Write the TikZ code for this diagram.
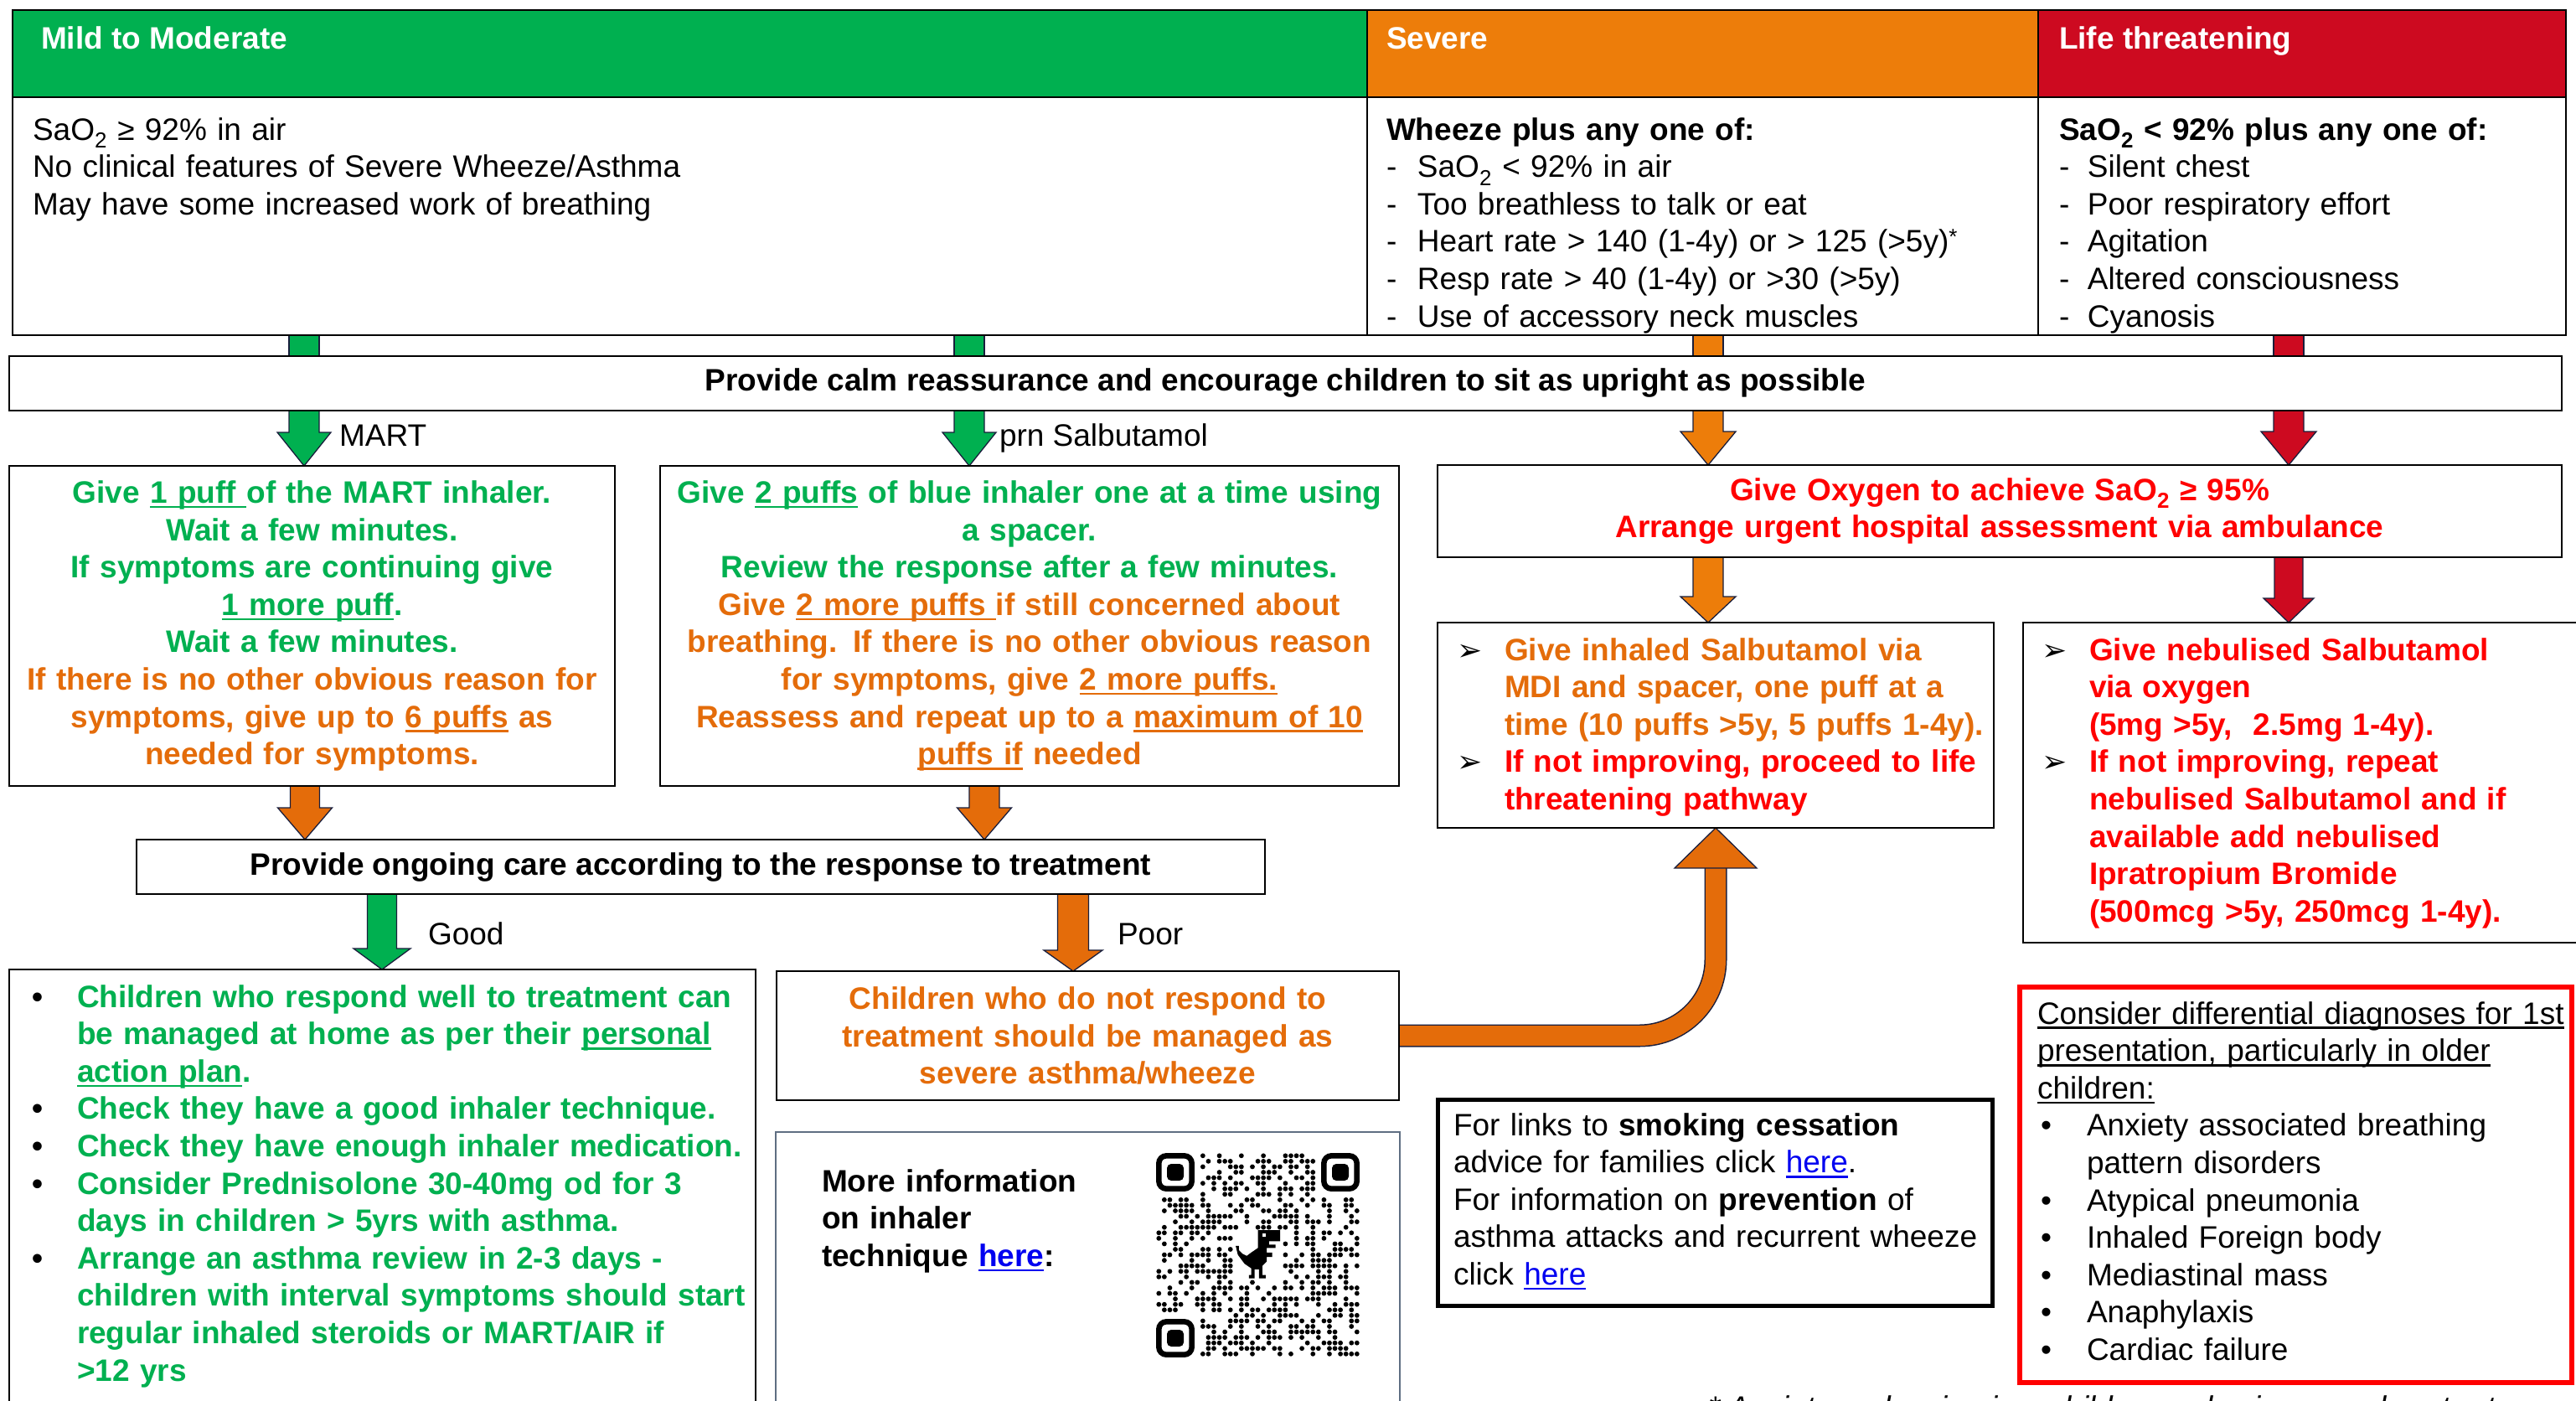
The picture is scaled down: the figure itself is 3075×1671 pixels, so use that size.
\documentclass[tikz,border=0pt]{standalone}
\usepackage{fontspec}
\setmainfont{Liberation Sans}
\newfontfamily\djv{DejaVu Sans}
\usetikzlibrary{calc}
\pgfdeclarelayer{bg}
\pgfsetlayers{bg,main}
\definecolor{hgreen}{RGB}{0,176,80}
\definecolor{horange}{RGB}{237,125,10}
\definecolor{hred}{RGB}{205,10,32}
\definecolor{tgreen}{RGB}{0,176,80}
\definecolor{torange}{RGB}{228,108,10}
\definecolor{tred}{RGB}{255,0,0}
\definecolor{lnk}{RGB}{0,0,240}
\definecolor{aedge}{RGB}{25,30,60}
\definecolor{qrgray}{RGB}{95,110,130}
\newsavebox\ulbox
\newcommand{\uline}[1]{\leavevmode\sbox\ulbox{#1}\rlap{\usebox\ulbox}\rule[-6pt]{\wd\ulbox}{2.6pt}}
\newcommand{\blkdown}[6]{%
  \filldraw[fill=#3, draw=aedge, line width=1.3pt, line join=miter]
    let \p1=(#1), \p2=(#2) in
    (\x1-#4pt,\y1) -- (\x1+#4pt,\y1) -- (\x1+#4pt,\y2+#6pt) -- (\x1+#5pt,\y2+#6pt)
    -- (\x1,\y2) -- (\x1-#5pt,\y2+#6pt) -- (\x1-#4pt,\y2+#6pt) -- cycle;}
\newcommand{\blkstub}[3]{%
  \filldraw[fill=#3, draw=aedge, line width=1.3pt]
    let \p1=(#1), \p2=(#2) in (\x1-18pt,\y1) rectangle (\x1+18pt,\y2);}
\newcommand{\arr}{{\djv\mdseries\color{black}\fontsize{36}{36}\selectfont ➢}}
\newcommand{\bul}{{\color{black}•}}
\newcommand{\lk}[1]{{\color{lnk}\uline{#1}}}
\begin{document}
\begin{tikzpicture}[x=1pt,y=-1pt,
  every node/.style={inner sep=0pt, outer sep=0pt, font=\fontsize{37}{44.6}\selectfont},
  cell/.style={draw=black, line width=2.5pt, anchor=north west},
  box/.style={draw=black, line width=2.5pt, anchor=north west, align=center},
  bt/.style={font=\fontsize{37}{44.6}\selectfont\bfseries},
  lt/.style={anchor=base west, text width=1000pt, align=left},
  lab/.style={anchor=base west}]
\useasboundingbox (0,0) rectangle (3075,1671);
\clip (0,0) rectangle (3075,1671);
% column coordinates
\coordinate (cM) at (363,0);
\coordinate (cP) at (1157,0);
\coordinate (cS) at (2039,0);
\coordinate (cL) at (2732,0);
\coordinate (cMb) at (364,0);
\coordinate (cPb) at (1175,0);
\coordinate (cG) at (456,0);
\coordinate (cR) at (1281,0);
% header
\node[cell, fill=hgreen, minimum width=1617pt, minimum height=104pt] (hM) at (15,12) {};
\node[cell, fill=horange, minimum width=801pt, minimum height=104pt] (hS) at (1632,12) {};
\node[cell, fill=hred, minimum width=630pt, minimum height=104pt] (hL) at (2433,12) {};
\node[lab, text=white, bt] (tM) at (49,58) {Mild to Moderate};
\node[lab, text=white, bt] (tS) at (1655,58) {Severe};
\node[lab, text=white, bt] (tL) at (2458,58) {Life threatening};
\node[cell, minimum width=1617pt, minimum height=284pt] (bM) at (15,116) {};
\node[cell, minimum width=801pt, minimum height=284pt] (bS) at (1632,116) {};
\node[cell, minimum width=630pt, minimum height=284pt] (bL) at (2433,116) {};
\node[lt] (xM) at (39,167) {SaO\textsubscript{2} ≥ 92\% in air\\No clinical features of Severe Wheeze/Asthma\\May have some increased work of breathing};
\node[lt] (xS) at (1655,167) {\textbf{Wheeze plus any one of:}\\
\makebox[37pt][l]{-}SaO\textsubscript{2} < 92\% in air\\
\makebox[37pt][l]{-}Too breathless to talk or eat\\
\makebox[37pt][l]{-}Heart rate > 140 (1-4y) or > 125 (>5y)\textsuperscript{*}\\
\makebox[37pt][l]{-}Resp rate > 40 (1-4y) or >30 (>5y)\\
\makebox[37pt][l]{-}Use of accessory neck muscles};
\node[lt] (xL) at (2458,167) {\textbf{SaO\textsubscript{2} < 92\% plus any one of:}\\
\makebox[34pt][l]{-}Silent chest\\
\makebox[34pt][l]{-}Poor respiratory effort\\
\makebox[34pt][l]{-}Agitation\\
\makebox[34pt][l]{-}Altered consciousness\\
\makebox[34pt][l]{-}Cyanosis};
% calm box
\node[box, bt, minimum width=3047pt, minimum height=65pt] (calm) at (11,425) {Provide calm reassurance and encourage children to sit as upright as possible};
% MART / prn boxes
\node[box, bt, text=tgreen, text width=713pt, minimum width=723pt, minimum height=382pt] (mart) at (11,556) {Give \uline{1 puff }of the MART inhaler.\\Wait a few minutes.\\If symptoms are continuing give\\\uline{1 more puff}.\\Wait a few minutes.\\\color{torange}If there is no other obvious reason for\\symptoms, give up to \uline{6 puffs} as\\needed for symptoms.};
\node[box, bt, text=tgreen, text width=872pt, minimum width=882pt, minimum height=382pt] (prn) at (788,556) {Give \uline{2 puffs} of blue inhaler one at a time using\\a spacer.\\Review the response after a few minutes.\\\color{torange}Give \uline{2 more puffs }if still concerned about\\breathing. If there is no other obvious reason\\for symptoms, give \uline{2 more puffs.}\\Reassess and repeat up to a \uline{maximum of 10}\\\uline{puffs if} needed};
% severe / life
\node[box, bt, text=tred, text width=1332pt, minimum width=1342pt, minimum height=110pt] (ox) at (1716,555) {Give Oxygen to achieve SaO\textsubscript{2} ≥ 95\%\\Arrange urgent hospital assessment via ambulance};
\node[box, minimum width=664pt, minimum height=245pt] (sev2) at (1716,743) {};
\node[lt, bt, text=torange] (xs2) at (1739,788) {\makebox[57pt][l]{\arr}Give inhaled Salbutamol via\\\hspace*{57pt}MDI and spacer, one puff at a\\\hspace*{57pt}time (10 puffs >5y, 5 puffs 1-4y).\\\color{tred}\makebox[57pt][l]{\arr}If not improving, proceed to life\\\hspace*{57pt}threatening pathway};
\node[box, minimum width=663pt, minimum height=382pt] (life2) at (2415,743) {};
\node[lt, bt, text=tred] (xl2) at (2437,788) {\makebox[57pt][l]{\arr}Give nebulised Salbutamol\\\hspace*{57pt}via oxygen\\\hspace*{57pt}(5mg >5y,\ \ 2.5mg 1-4y).\\\makebox[57pt][l]{\arr}If not improving, repeat\\\hspace*{57pt}nebulised Salbutamol and if\\\hspace*{57pt}available add nebulised\\\hspace*{57pt}Ipratropium Bromide\\\hspace*{57pt}(500mcg >5y, 250mcg 1-4y).};
% ongoing care
\node[box, bt, minimum width=1347pt, minimum height=65pt] (care) at (163,1002) {Provide ongoing care according to the response to treatment};
\node[box, minimum width=891pt, minimum height=600pt] (good) at (11,1157) {};
\node[lt, bt, text=tgreen] (xg) at (38,1202) {\makebox[54pt][l]{\bul}Children who respond well to treatment can\\
\hspace*{54pt}be managed at home as per their \uline{personal}\\
\hspace*{54pt}\uline{action plan}.\\
\makebox[54pt][l]{\bul}Check they have a good inhaler technique.\\
\makebox[54pt][l]{\bul}Check they have enough inhaler medication.\\
\makebox[54pt][l]{\bul}Consider Prednisolone 30-40mg od for 3\\
\hspace*{54pt}days in children > 5yrs with asthma.\\
\makebox[54pt][l]{\bul}Arrange an asthma review in 2-3 days -\\
\hspace*{54pt}children with interval symptoms should start\\
\hspace*{54pt}regular inhaled steroids or MART/AIR if\\
\hspace*{54pt}>12 yrs};
\node[box, bt, text=torange, text width=733pt, minimum width=743pt, minimum height=154pt] (poor) at (927,1159) {Children who do not respond to\\treatment should be managed as\\severe asthma/wheeze};
% QR box
\node[cell, draw=qrgray, line width=2pt, minimum width=745pt, minimum height=400pt] (qrbox) at (926,1351) {};
\node[lt, bt] (xq) at (981,1422) {More information\\on inhaler\\technique \lk{here}:};
% smoking box
\node[cell, line width=5pt, minimum width=662pt, minimum height=246pt] (smoke) at (1716,1312) {};
\node[lt] (xsm) at (1735,1355) {For links to \textbf{smoking cessation}\\advice for families click \lk{here}.\\For information on \textbf{prevention} of\\asthma attacks and recurrent wheeze\\click \lk{here}};
% differential box
\node[cell, draw=tred, line width=6pt, minimum width=659pt, minimum height=472pt] (diff) at (2411,1178) {};
\node[lt] (xd) at (2432,1222) {\uline{Consider differential diagnoses for 1st}\\\uline{presentation, particularly in older}\\\uline{children:}\\
\hspace*{4pt}\makebox[55pt][l]{•}Anxiety associated breathing\\
\hspace*{59pt}pattern disorders\\
\hspace*{4pt}\makebox[55pt][l]{•}Atypical pneumonia\\
\hspace*{4pt}\makebox[55pt][l]{•}Inhaled Foreign body\\
\hspace*{4pt}\makebox[55pt][l]{•}Mediastinal mass\\
\hspace*{4pt}\makebox[55pt][l]{•}Anaphylaxis\\
\hspace*{4pt}\makebox[55pt][l]{•}Cardiac failure};
\node[lab, font=\fontsize{37}{44.6}\selectfont\itshape] (fn) at (2039,1692) {* Anxiety and crying in a child may also increase heart rate};
% labels
\node[lab] (lM) at (405,532) {MART};
\node[lab] (lP) at (1193,532) {prn Salbutamol};
\node[lab] (lG) at (511,1127) {Good};
\node[lab] (lR) at (1334,1127) {Poor};
% QR code
\begin{scope}
\foreach \i in {0,...,36}{\foreach \j in {0,...,36}{%
  \pgfmathtruncatemacro\qh{mod(mod(\i*\i*3,23)+mod(\j*\j*5,23)+7*mod(\i*\j,23)+11*\i+13*\j,19)}%
  \pgfmathtruncatemacro\qsk{((\i<8 && \j<8) || (\i>28 && \j<8) || (\i<8 && \j>28) || (\i>13 && \i<23 && \j>13 && \j<23)) ? 1 : 0}%
  \ifnum\qsk=0 \ifnum\qh<9 \fill ({1380+(\i+0.5)*6.57},{1376+(\j+0.5)*6.57}) circle (2.9pt);\fi\fi
}}
\foreach \fx/\fy in {1380/1376,1577/1376,1380/1574}{%
  \draw[line width=6.5pt, rounded corners=9pt] (\fx+3.3,\fy+3.3) rectangle (\fx+42.7,\fy+42.7);
  \fill[rounded corners=5pt] (\fx+13,\fy+13) rectangle (\fx+33,\fy+33);
}
\end{scope}
\begin{scope}[shift={(1475,1468)}, x=2.65pt, y=-2.68pt]
\fill (10,0) -- (20,0) -- (20,5) -- (15,5) -- (15,6.5) -- (18,6.5) -- (18,8) -- (14,8) -- (14,10) -- (16.5,10) -- (16.5,12) -- (14,12) -- (14,14) -- (12,16) -- (12,20) -- (13.5,20) -- (13.5,21.5) -- (10.5,21.5) -- (10.5,17.5) -- (8.5,17.5) -- (8.5,21.5) -- (6,21.5) -- (6,20) -- (7,20) -- (7,17) -- (4,15) -- (1,11) -- (0,7) -- (1.5,7) -- (1.5,9) -- (3,10.5) -- (5,11.5) -- (7,10) -- (10,8) -- cycle;
\fill[white] (12,1.5) rectangle (13.5,3);
\end{scope}
% arrows
\begin{pgfonlayer}{bg}
\blkstub{bM.south -| cM}{calm.north -| cM}{hgreen}
\blkstub{bM.south -| cP}{calm.north -| cP}{hgreen}
\blkstub{bS.south -| cS}{calm.north -| cS}{horange}
\blkstub{bL.south -| cL}{calm.north -| cL}{hred}
\blkdown{calm.south -| cM}{mart.north -| cM}{hgreen}{18}{32}{40}
\blkdown{calm.south -| cP}{prn.north -| cP}{hgreen}{18}{32}{40}
\blkdown{calm.south -| cS}{ox.north -| cS}{horange}{18}{33}{40}
\blkdown{calm.south -| cL}{ox.north -| cL}{hred}{18}{33}{40}
\blkdown{ox.south -| cS}{sev2.north -| cS}{horange}{18}{33}{31}
\blkdown{ox.south -| cL}{life2.north -| cL}{hred}{17}{30}{29}
\blkdown{mart.south -| cMb}{care.north -| cMb}{torange}{17.5}{32.5}{38}
\blkdown{prn.south -| cPb}{care.north -| cPb}{torange}{18}{32.5}{38}
\blkdown{care.south -| cG}{good.north -| cG}{hgreen}{17.5}{34}{25}
\blkdown{care.south -| cR}{poor.north -| cR}{torange}{18.5}{35}{25}
\draw[line width=27pt, aedge] let \p1=(poor.east), \p2=(sev2.south) in (\x1,\y1) -- (\x2-91pt,\y1) arc[start angle=-90, end angle=0, radius=91pt] -- (\x2,\y2-46pt);
\draw[line width=24pt, torange] let \p1=(poor.east), \p2=(sev2.south) in (\x1,\y1) -- (\x2-91pt,\y1) arc[start angle=-90, end angle=0, radius=91pt] -- (\x2,\y2-46pt);
\filldraw[fill=torange, draw=aedge, line width=1.3pt] let \p2=(sev2.south) in (\x2-49pt,\y2-48pt) -- (\x2+49pt,\y2-48pt) -- (\x2,\y2) -- cycle;
\end{pgfonlayer}
\end{tikzpicture}
\end{document}
